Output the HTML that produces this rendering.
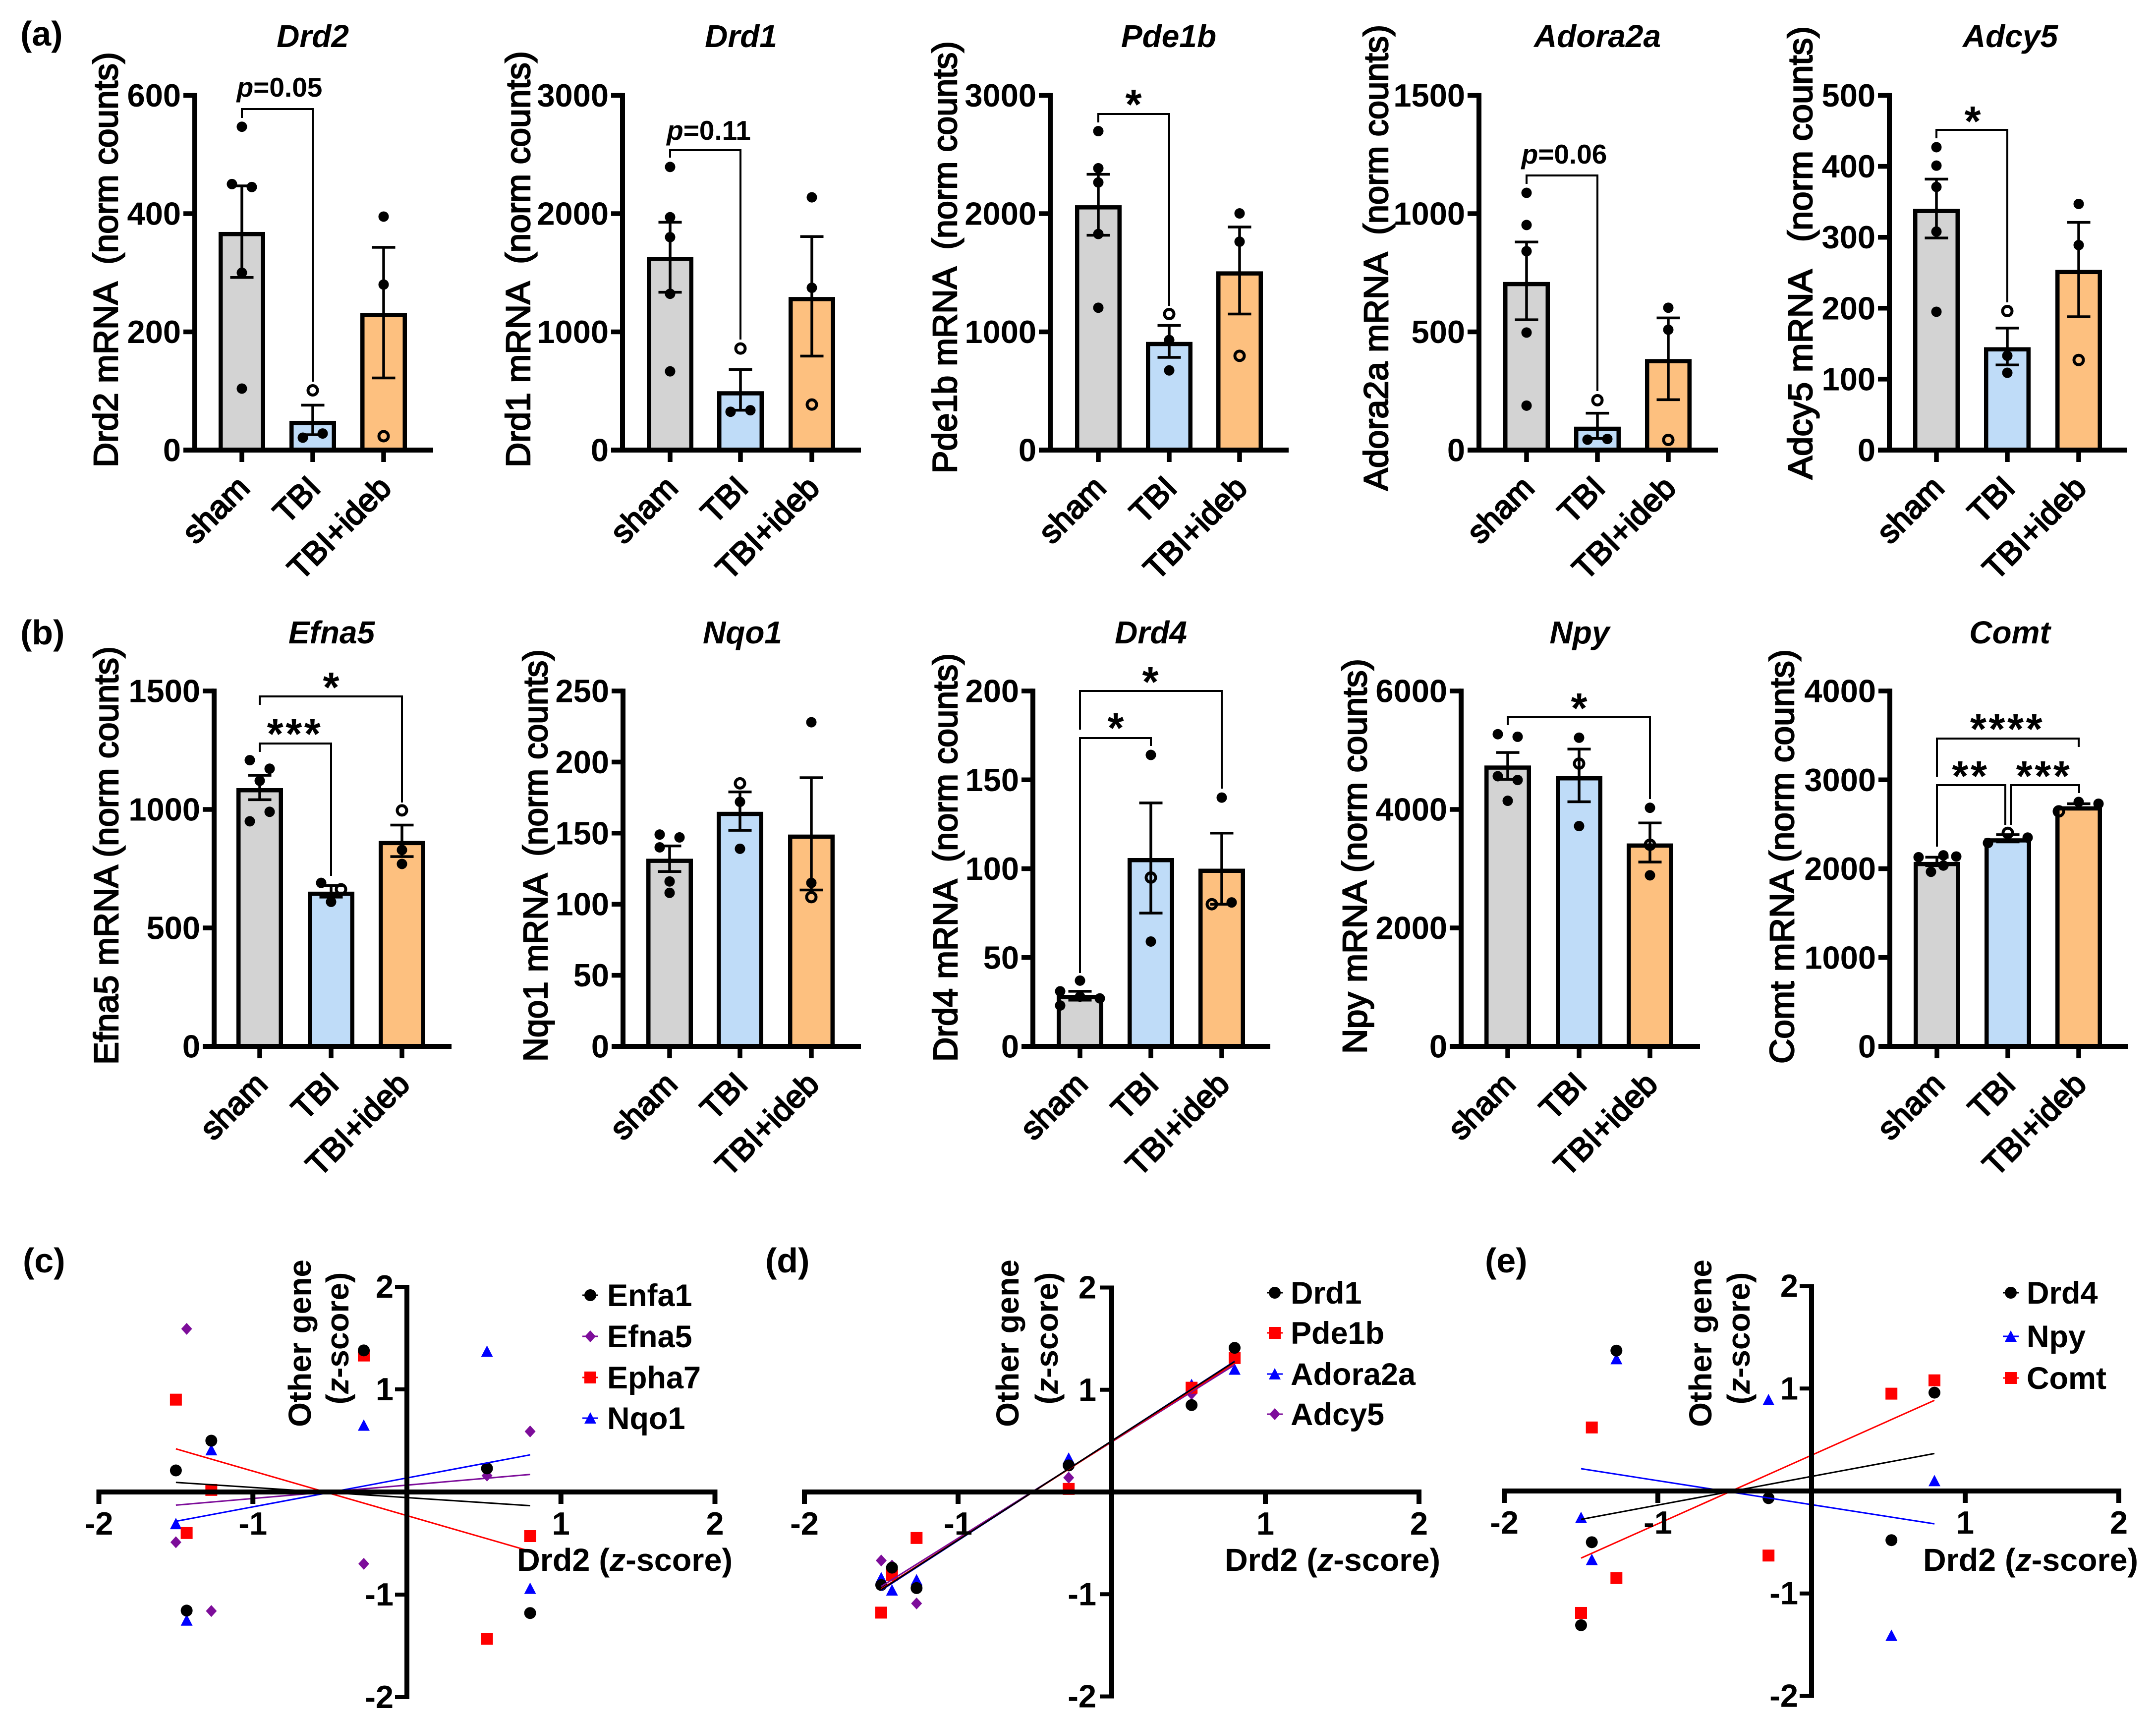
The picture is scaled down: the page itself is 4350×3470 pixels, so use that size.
<!DOCTYPE html>
<html lang="en">
<head>
<meta charset="utf-8">
<title>Gene expression bar charts and z-score correlations</title>
<style>
html,body{margin:0;padding:0;background:#fff;}
#figure{display:block;width:4350px;height:3470px;}
text{font-family:"Liberation Sans",Arial,sans-serif;fill:#000;white-space:pre;}
</style>
</head>
<body>
<svg id="figure" xmlns="http://www.w3.org/2000/svg" width="4350" height="3470" viewBox="0 0 4350 3470"></svg>
<script>
// ---------- shared categories ----------
const groupLabels = ['sham', 'TBI', 'TBI+ideb'];

// ---------- panel (a) and (b): bar chart values ----------
const drd2Ticks = [0, 200, 400, 600];
const drd2Means = [369, 49.5, 232];
const drd2ErrHi = [447, 76, 343];
const drd2ErrLo = [292, 26, 122];
const drd2Points = [[547, 450, 445, 300, 104], [101, 21, 28], [395, 280, 23.5]];

const drd1Ticks = [0, 1000, 2000, 3000];
const drd1Means = [1635, 498, 1295];
const drd1ErrHi = [1927, 682, 1806];
const drd1ErrLo = [1335, 337, 795];
const drd1Points = [[2395, 1970, 1801, 1322, 666], [859, 324, 337], [2138, 1373, 385]];

const pde1bTicks = [0, 1000, 2000, 3000];
const pde1bMeans = [2071, 915, 1512];
const pde1bErrHi = [2333, 1054, 1887];
const pde1bErrLo = [1817, 784, 1151];
const pde1bPoints = [[2698, 2384, 2264, 1828, 1204], [1151, 931, 674], [2002, 1763, 797]];

const adora2aTicks = [0, 500, 1000, 1500];
const adora2aMeans = [711, 99, 385];
const adora2aErrHi = [880, 156, 559];
const adora2aErrLo = [551, 49, 213];
const adora2aPoints = [[1088, 952, 841, 497, 188], [211, 44, 47], [602, 509, 43]];

const adcy5Ticks = [0, 100, 200, 300, 400, 500];
const adcy5Means = [340, 145, 254];
const adcy5ErrHi = [382, 172, 321];
const adcy5ErrLo = [299, 120, 188];
const adcy5Points = [[427, 401, 371, 308, 195], [196, 133, 109], [347, 289, 127]];

const efna5Ticks = [0, 500, 1000, 1500];
const efna5Means = [1090, 653, 867];
const efna5ErrHi = [1144, 679, 934];
const efna5ErrLo = [1041, 630, 801];
const efna5Points = [[1208, 1172, 1121, 990, 950], [690, 663, 610], [996, 829, 770]];

const nqo1Ticks = [0, 50, 100, 150, 200, 250];
const nqo1Means = [132, 165, 149];
const nqo1ErrHi = [141, 179, 189];
const nqo1ErrLo = [123, 152, 110];
const nqo1Points = [[149, 147, 140, 116, 108], [185, 172, 139], [228, 115, 105]];

const drd4Ticks = [0, 50, 100, 150, 200];
const drd4Means = [29, 106, 100];
const drd4ErrHi = [31, 137, 120];
const drd4ErrLo = [26, 75, 80];
const drd4Points = [[37, 31, 28, 27, 23], [164, 95, 59], [140, 80, 81]];

const npyTicks = [0, 2000, 4000, 6000];
const npyMeans = [4742, 4561, 3426];
const npyErrHi = [4961, 5019, 3772];
const npyErrLo = [4508, 4130, 3112];
const npyPoints = [[5270, 5227, 4561, 4497, 4146], [5211, 4774, 3719], [4028, 3405, 2888]];

const comtTicks = [0, 1000, 2000, 3000, 4000];
const comtMeans = [2076, 2342, 2702];
const comtErrHi = [2129, 2383, 2731];
const comtErrLo = [2035, 2301, 2670];
const comtPoints = [[2129, 1965, 2150, 2035, 2137], [2289, 2403, 2350], [2645, 2751, 2731]];

// ---------- panels (c), (d), (e): z-score values ----------
const drd2Z = [-1.5, -1.43, -1.27, -0.28, 0.52, 0.8];
const zTicks = [-2, -1, 1, 2];

const enfa1Z = [0.21, -1.156, 0.5, 1.38, 0.23, -1.18];
const efna5Z = [-0.49, 1.59, -1.16, -0.7, 0.16, 0.59];
const epha7Z = [0.9, -0.4, 0.02, 1.33, -1.43, -0.43];
const nqo1Z = [-0.31, -1.25, 0.41, 0.65, 1.37, -0.94];

const drd1Z = [-0.91, -0.74, -0.94, 0.26, 0.85, 1.41];
const pde1bZ = [-1.18, -0.81, -0.45, 0.03, 1.02, 1.31];
const adora2aZ = [-0.84, -0.96, -0.86, 0.33, 1.05, 1.2];
const adcy5Z = [-0.67, -0.72, -1.09, 0.14, 0.96, 1.34];

const drd4Z = [-1.31, -0.5, 1.37, -0.07, -0.48, 0.96];
const npyZ = [-0.26, -0.67, 1.29, 0.89, -1.41, 0.1];
const comtZ = [-1.19, 0.62, -0.85, -0.63, 0.95, 1.08];

// ---------- beeswarm column index and hollow-point index for each bar ----------
const pairSwarm = [[0, -1, 1, 0, 0], [0, -1, 1], [0, 0, 0]];
const tbiPairSwarm = [[0, 0, 0, 0, 0], [0, -1, 1], [0, 0, 0]];
const noneSwarm = [[0, 0, 0, 0, 0], [0, 0, 0], [0, 0, 0]];
const efna5Swarm = [[-1, 1, 0, 1, -1], [-1, 1, 0], [0, 0, 0]];
const nqo1Swarm = [[-1, 1, -1, 0, 0], [0, 0, 0], [0, 0, 0]];
const drd4Swarm = [[0, -2, 0, 2, -2], [0, 0, 0], [0, -1, 1]];
const npySwarm = [[-1, 1, -1, 1, 0], [0, 0, 0], [0, 0, 0]];
const comtSwarm = [[-1.85, -0.6, 0.65, 0.65, 1.95], [-2, 0, 2], [-2, 0, 2]];

// ---------- layout (pixels), separate from the data ----------
const barColors = ['#d3d3d3', '#bfdcf8', '#fdc07f'];
const rowA = {top: 192.5, base: 908, titleY: 95};
const rowB = {top: 1394, base: 2111, titleY: 1298};

const barPanels = [
 {gene:'Drd2', row:rowA, axisX:393, xEnd:874, cx:[488,631,774], titleX:631, yTitle:'Drd2 mRNA  (norm counts)', yBase:237, yT:105, yB:943,
  ticks:drd2Ticks, means:drd2Means, hi:drd2ErrHi, lo:drd2ErrLo, pts:drd2Points, swarm:pairSwarm, hollow:[-1,0,2],
  notes:[{path:[[488,238],[488,220],[631,220],[631,770]], p:'0.05', x:564, y:195}]},
 {gene:'Drd1', row:rowA, axisX:1256, xEnd:1737, cx:[1352,1494,1638], titleX:1495, yTitle:'Drd1 mRNA  (norm counts)', yBase:1069, yT:103, yB:943,
  ticks:drd1Ticks, means:drd1Means, hi:drd1ErrHi, lo:drd1ErrLo, pts:drd1Points, swarm:tbiPairSwarm, hollow:[-1,0,2],
  notes:[{path:[[1352,318],[1352,303],[1494,303],[1494,685]], p:'0.11', x:1430, y:282}]},
 {gene:'Pde1b', row:rowA, axisX:2119, xEnd:2600, cx:[2216,2359,2501], titleX:2358, yTitle:'Pde1b mRNA  (norm counts)', yBase:1930, yT:83, yB:955,
  ticks:pde1bTicks, means:pde1bMeans, hi:pde1bErrHi, lo:pde1bErrLo, pts:pde1bPoints, swarm:noneSwarm, hollow:[-1,0,2],
  notes:[{path:[[2216,247],[2216,230],[2359,230],[2359,617]], stars:'*', x:2287, y:197}]},
 {gene:'Adora2a', row:rowA, axisX:2984, xEnd:3466, cx:[3080,3223,3366], titleX:3223, yTitle:'Adora2a mRNA  (norm counts)', yBase:2800, yT:50, yB:990,
  ticks:adora2aTicks, means:adora2aMeans, hi:adora2aErrHi, lo:adora2aErrLo, pts:adora2aPoints, swarm:tbiPairSwarm, hollow:[-1,0,2],
  notes:[{path:[[3080,371],[3080,354],[3223,354],[3223,789]], p:'0.06', x:3156, y:330}]},
 {gene:'Adcy5', row:rowA, axisX:3812, xEnd:4292, cx:[3907,4050,4194], titleX:4056, yTitle:'Adcy5 mRNA   (norm counts)', yBase:3656, yT:53, yB:967,
  ticks:adcy5Ticks, means:adcy5Means, hi:adcy5ErrHi, lo:adcy5ErrLo, pts:adcy5Points, swarm:noneSwarm, hollow:[-1,0,2],
  notes:[{path:[[3907,279],[3907,262],[4050,262],[4050,610]], stars:'*', x:3980, y:231}]},
 {gene:'Efna5', row:rowB, axisX:432, xEnd:911, cx:[524,668,811], titleX:669, yTitle:'Efna5 mRNA (norm counts)', yBase:238, yT:1304, yB:2148,
  ticks:efna5Ticks, means:efna5Means, hi:efna5ErrHi, lo:efna5ErrLo, pts:efna5Points, swarm:efna5Swarm, hollow:[-1,1,0],
  notes:[{path:[[524,1422],[524,1405],[811,1405],[811,1619]], stars:'*', x:668, y:1373},
         {path:[[524,1517],[524,1500],[668,1500],[668,1767]], stars:'***', x:595, y:1467}]},
 {gene:'Nqo1', row:rowB, axisX:1257, xEnd:1737, cx:[1351,1493,1637], titleX:1498, yTitle:'Nqo1 mRNA  (norm counts)', yBase:1104, yT:1310, yB:2142,
  ticks:nqo1Ticks, means:nqo1Means, hi:nqo1ErrHi, lo:nqo1ErrLo, pts:nqo1Points, swarm:nqo1Swarm, hollow:[-1,0,2],
  notes:[]},
 {gene:'Drd4', row:rowB, axisX:2084, xEnd:2563, cx:[2179,2322,2465], titleX:2322, yTitle:'Drd4 mRNA  (norm counts)', yBase:1931, yT:1318, yB:2142,
  ticks:drd4Ticks, means:drd4Means, hi:drd4ErrHi, lo:drd4ErrLo, pts:drd4Points, swarm:drd4Swarm, hollow:[-1,1,1],
  notes:[{path:[[2179,1472],[2179,1394],[2465,1394],[2465,1591]], stars:'*', x:2321, y:1362},
         {path:[[2179,1963],[2179,1489],[2322,1489],[2322,1505]], stars:'*', x:2251, y:1455}]},
 {gene:'Npy', row:rowB, axisX:2948, xEnd:3430, cx:[3042,3186,3329], titleX:3187, yTitle:'Npy mRNA (norm counts)', yBase:2757, yT:1329, yB:2126,
  ticks:npyTicks, means:npyMeans, hi:npyErrHi, lo:npyErrLo, pts:npyPoints, swarm:npySwarm, hollow:[-1,1,1],
  notes:[{path:[[3042,1463],[3042,1447],[3329,1447],[3329,1612]], stars:'*', x:3186, y:1415}]},
 {gene:'Comt', row:rowB, axisX:3813, xEnd:4294, cx:[3908,4051,4194], titleX:4055, yTitle:'Comt mRNA (norm counts)', yBase:3619, yT:1310, yB:2146,
  ticks:comtTicks, means:comtMeans, hi:comtErrHi, lo:comtErrLo, pts:comtPoints, swarm:comtSwarm, hollow:[-1,1,0],
  notes:[{path:[[3908,1567],[3908,1490],[4194,1490],[4194,1507]], stars:'****', x:4050, y:1457},
         {path:[[3908,1708],[3908,1584],[4046,1584],[4046,1664]], stars:'**', x:3976, y:1552},
         {path:[[4057,1664],[4057,1584],[4195,1584],[4195,1600]], stars:'***', x:4124, y:1552}]}
];

const black = '#000000', purple = '#7d0d9a', red = '#ff0000', blue = '#0000ff';
const scatterPanels = [
 {id:'c', labelX:46, x0:821, ux:310.75, y0:3010, uy:207, titleX:1043, titleW:435, otherX:627, zX:703, tickRight:794,
  legendX:1191, legendTextX:1225, legendY:[2613,2696,2779,2861],
  series:[{name:'Enfa1',values:enfa1Z,color:black,shape:'circle'},{name:'Efna5',values:efna5Z,color:purple,shape:'diamond'},{name:'Epha7',values:epha7Z,color:red,shape:'square'},{name:'Nqo1',values:nqo1Z,color:blue,shape:'triangle'}]},
 {id:'d', labelX:1544, x0:2243, ux:310, y0:3010, uy:206.25, titleX:2471, titleW:435, otherX:2055, zX:2134, tickRight:2212,
  legendX:2572, legendTextX:2604, legendY:[2608,2689,2772,2853],
  series:[{name:'Drd1',values:drd1Z,color:black,shape:'circle'},{name:'Pde1b',values:pde1bZ,color:red,shape:'square'},{name:'Adora2a',values:adora2aZ,color:blue,shape:'triangle'},{name:'Adcy5',values:adcy5Z,color:purple,shape:'diamond'}]},
 {id:'e', labelX:2996, x0:3655, ux:310, y0:3008, uy:206.7, titleX:3880, titleW:434, otherX:3453, zX:3530, tickRight:3628,
  legendX:4057, legendTextX:4089, legendY:[2608,2696,2780],
  series:[{name:'Drd4',values:drd4Z,color:black,shape:'circle'},{name:'Npy',values:npyZ,color:blue,shape:'triangle'},{name:'Comt',values:comtZ,color:red,shape:'square'}]}
];

const panelLetters = [['(a)',41,92],['(b)',41,1300]];

// ---------- drawing ----------
const SVGNS = 'http://www.w3.org/2000/svg';
const svg = document.getElementById('figure');

function mk(tag, attrs, parent) {
  const node = document.createElementNS(SVGNS, tag);
  for (const k in attrs) node.setAttribute(k, attrs[k]);
  parent.appendChild(node);
  return node;
}
function line(parent, x1, y1, x2, y2, w, color) {
  return mk('line', {x1:x1, y1:y1, x2:x2, y2:y2, stroke:color || '#000', 'stroke-width':w}, parent);
}
function slug(s) { return s.toLowerCase().replace(/[^a-z0-9]+/g, '-').replace(/^-|-$/g, ''); }

panelLetters.forEach(function (p) {
  const t = mk('text', {x:p[1], y:p[2], 'font-size':70, 'font-weight':'bold'}, svg);
  t.textContent = p[0];
  
  
});

barPanels.forEach(function (panel) {
  const key = slug(panel.gene);
  const top = panel.row.top, base = panel.row.base;
  const maxV = panel.ticks[panel.ticks.length - 1];
  const yScale = function (v) { return base - (v / maxV) * (base - top); };
  const g = mk('g', {}, svg);
  
  

  const title = mk('text', {x:panel.titleX, y:panel.row.titleY, 'font-size':64, 'font-weight':'bold', 'font-style':'italic', 'text-anchor':'middle'}, g);
  title.textContent = panel.gene;
  
  

  const yTitle = mk('text', {x:panel.yBase, y:panel.yB, 'font-size':69, stroke:'#000', 'stroke-width':2.4,
    textLength:panel.yB - panel.yT, lengthAdjust:'spacingAndGlyphs', transform:'rotate(-90 ' + panel.yBase + ' ' + panel.yB + ')'}, g);
  yTitle.textContent = panel.yTitle;
  
  

  // bars
  panel.means.forEach(function (m, i) {
    const outerTop = yScale(m);
    const bar = mk('rect', {x:panel.cx[i] - 42.75, y:outerTop + 4.25, width:85.5, height:Math.max(0, base - outerTop - 4.25), fill:barColors[i], stroke:'#000', 'stroke-width':8.5}, g);
    
    
  });

  // axes
  const yAxis = line(g, panel.axisX, top - 4.75, panel.axisX, base + 5, 10);
  
  
  const xAxis = line(g, panel.axisX - 23, base, panel.xEnd, base, 10);
  
  

  panel.ticks.forEach(function (tv) {
    const ty = yScale(tv);
    const tick = line(g, panel.axisX - 23, ty, panel.axisX, ty, 9.5);
    
    
    const lab = mk('text', {x:panel.axisX - 28, y:ty + 22.5, 'font-size':65, 'font-weight':'bold', 'text-anchor':'end'}, g);
    lab.textContent = String(tv);
    
    
  });

  groupLabels.forEach(function (name, i) {
    const tick = line(g, panel.cx[i], base, panel.cx[i], base + 24, 9.5);
    
    
    const ax = panel.cx[i] + 19, ay = base + 80;
    const lab = mk('text', {x:ax, y:ay, 'font-size':65, stroke:'#000', 'stroke-width':2.6, 'text-anchor':'end', transform:'rotate(-45 ' + ax + ' ' + ay + ')'}, g);
    lab.textContent = name;
    
    
  });

  // points
  panel.pts.forEach(function (vals, i) {
    vals.forEach(function (v, j) {
      const isHollow = panel.hollow[i] === j;
      const px = panel.cx[i] + panel.swarm[i][j] * 20;
      const dot = mk('circle', {cx:px, cy:yScale(v), r:isHollow ? 9.5 : 10.5, fill:isHollow ? 'none' : '#000', stroke:isHollow ? '#000' : 'none', 'stroke-width':isHollow ? 6 : 0}, g);
      
      
    });
  });

  // error bars
  panel.means.forEach(function (m, i) {
    const hiY = yScale(panel.hi[i]), loY = yScale(panel.lo[i]);
    const stem = line(g, panel.cx[i], hiY, panel.cx[i], loY, 5.5);
    
    
    const capHi = line(g, panel.cx[i] - 23.5, hiY, panel.cx[i] + 23.5, hiY, 5.5);
    
    
    const capLo = line(g, panel.cx[i] - 23.5, loY, panel.cx[i] + 23.5, loY, 5.5);
    
    
  });

  // significance annotations
  panel.notes.forEach(function (note) {
    const bracket = mk('polyline', {points:note.path.map(function (p) { return p.join(','); }).join(' '), fill:'none', stroke:'#000', 'stroke-width':4}, g);
    
    
    if (note.p) {
      const t = mk('text', {x:note.x, y:note.y, 'font-size':55, 'font-weight':'bold', 'text-anchor':'middle'}, g);
      const it = mk('tspan', {'font-style':'italic'}, t);
      it.textContent = 'p';
      const rest = mk('tspan', {}, t);
      rest.textContent = '=' + note.p;
      
      
    } else {
      const t = mk('text', {x:note.x, y:note.y + 43, 'font-size':85, 'font-weight':'bold', 'text-anchor':'middle', 'letter-spacing':note.stars.length > 1 ? 4.5 : 0}, g);
      t.textContent = note.stars;
      
      
    }
  });
});

function leastSquares(xs, ys) {
  const n = xs.length;
  const mx = xs.reduce(function (a, b) { return a + b; }, 0) / n;
  const my = ys.reduce(function (a, b) { return a + b; }, 0) / n;
  let sxy = 0, sxx = 0;
  xs.forEach(function (x, i) { sxy += (x - mx) * (ys[i] - my); sxx += (x - mx) * (x - mx); });
  const slope = sxy / sxx;
  return function (x) { return my + slope * (x - mx); };
}

function drawMarker(parent, shape, x, y, color) {
  if (shape === 'circle') return mk('circle', {cx:x, cy:y, r:12, fill:color}, parent);
  if (shape === 'square') return mk('rect', {x:x - 12, y:y - 12, width:24, height:24, fill:color}, parent);
  if (shape === 'diamond') return mk('polygon', {points:(x) + ',' + (y - 12) + ' ' + (x + 11) + ',' + y + ' ' + x + ',' + (y + 12) + ' ' + (x - 11) + ',' + y, fill:color}, parent);
  return mk('polygon', {points:x + ',' + (y - 12) + ' ' + (x + 12) + ',' + (y + 11) + ' ' + (x - 12) + ',' + (y + 11), fill:color}, parent);
}

scatterPanels.forEach(function (panel) {
  const px = function (v) { return panel.x0 + v * panel.ux; };
  const py = function (v) { return panel.y0 - v * panel.uy; };
  const g = mk('g', {}, svg);
  
  

  const letter = mk('text', {x:panel.labelX, y:2567, 'font-size':70, 'font-weight':'bold'}, g);
  letter.textContent = '(' + panel.id + ')';
  
  

  // markers first (reverse legend order), then fit lines
  panel.series.slice().reverse().forEach(function (s) {
    s.values.forEach(function (v, i) {
      const m = drawMarker(g, s.shape, px(drd2Z[i]), py(v), s.color);
      
      
    });
  });
  panel.series.slice().reverse().forEach(function (s) {
    const fit = leastSquares(drd2Z, s.values);
    const minX = Math.min.apply(null, drd2Z), maxX = Math.max.apply(null, drd2Z);
    const fl = line(g, px(minX), py(fit(minX)), px(maxX), py(fit(maxX)), 3, s.color);
    
    
  });

  // axes
  const xAxis = line(g, px(-2) - 5, panel.y0, px(2) + 5, panel.y0, 10);
  
  
  const yAxis = line(g, panel.x0, py(2) - 4, panel.x0, py(-2) + 4, 10);
  
  

  zTicks.forEach(function (tv) {
    const xt = line(g, px(tv), panel.y0, px(tv), panel.y0 + 24, 10);
    
    
    const xl = mk('text', {x:px(tv), y:panel.y0 + 86, 'font-size':65, 'font-weight':'bold', 'text-anchor':'middle'}, g);
    xl.textContent = String(tv);
    
    
    const yt = line(g, panel.x0 - 24, py(tv), panel.x0, py(tv), 8);
    
    
    const yl = mk('text', {x:panel.tickRight, y:py(tv) + 22, 'font-size':65, 'font-weight':'bold', 'text-anchor':'end'}, g);
    yl.textContent = String(tv);
    
    
  });

  // axis titles
  const other = mk('text', {x:panel.otherX, y:2710, 'font-size':64, 'font-weight':'bold', 'text-anchor':'middle', transform:'rotate(-90 ' + panel.otherX + ' 2710)'}, g);
  other.textContent = 'Other gene';
  
  
  const zt = mk('text', {x:panel.zX, y:2700, 'font-size':64, 'font-weight':'bold', 'text-anchor':'middle', transform:'rotate(-90 ' + panel.zX + ' 2700)'}, g);
  
  
  const z1 = mk('tspan', {}, zt); z1.textContent = '(';
  const z2 = mk('tspan', {'font-style':'italic'}, zt); z2.textContent = 'z';
  const z3 = mk('tspan', {}, zt); z3.textContent = '-score)';

  const xt = mk('text', {x:panel.titleX, y:3169, 'font-size':64, 'font-weight':'bold', textLength:panel.titleW, lengthAdjust:'spacingAndGlyphs'}, g);
  
  
  const t1 = mk('tspan', {}, xt); t1.textContent = 'Drd2 (';
  const t2 = mk('tspan', {'font-style':'italic'}, xt); t2.textContent = 'z';
  const t3 = mk('tspan', {}, xt); t3.textContent = '-score)';

  // legend
  panel.series.forEach(function (s, i) {
    const ly = panel.legendY[i];
    const entry = mk('g', {}, g);
    
    
    line(entry, panel.legendX - 16, ly, panel.legendX + 16, ly, 3, s.color);
    drawMarker(entry, s.shape, panel.legendX, ly, s.color);
    const lt = mk('text', {x:panel.legendTextX, y:ly + 22, 'font-size':63, 'font-weight':'bold'}, entry);
    lt.textContent = s.name;
  });
});
</script>
</body>
</html>
